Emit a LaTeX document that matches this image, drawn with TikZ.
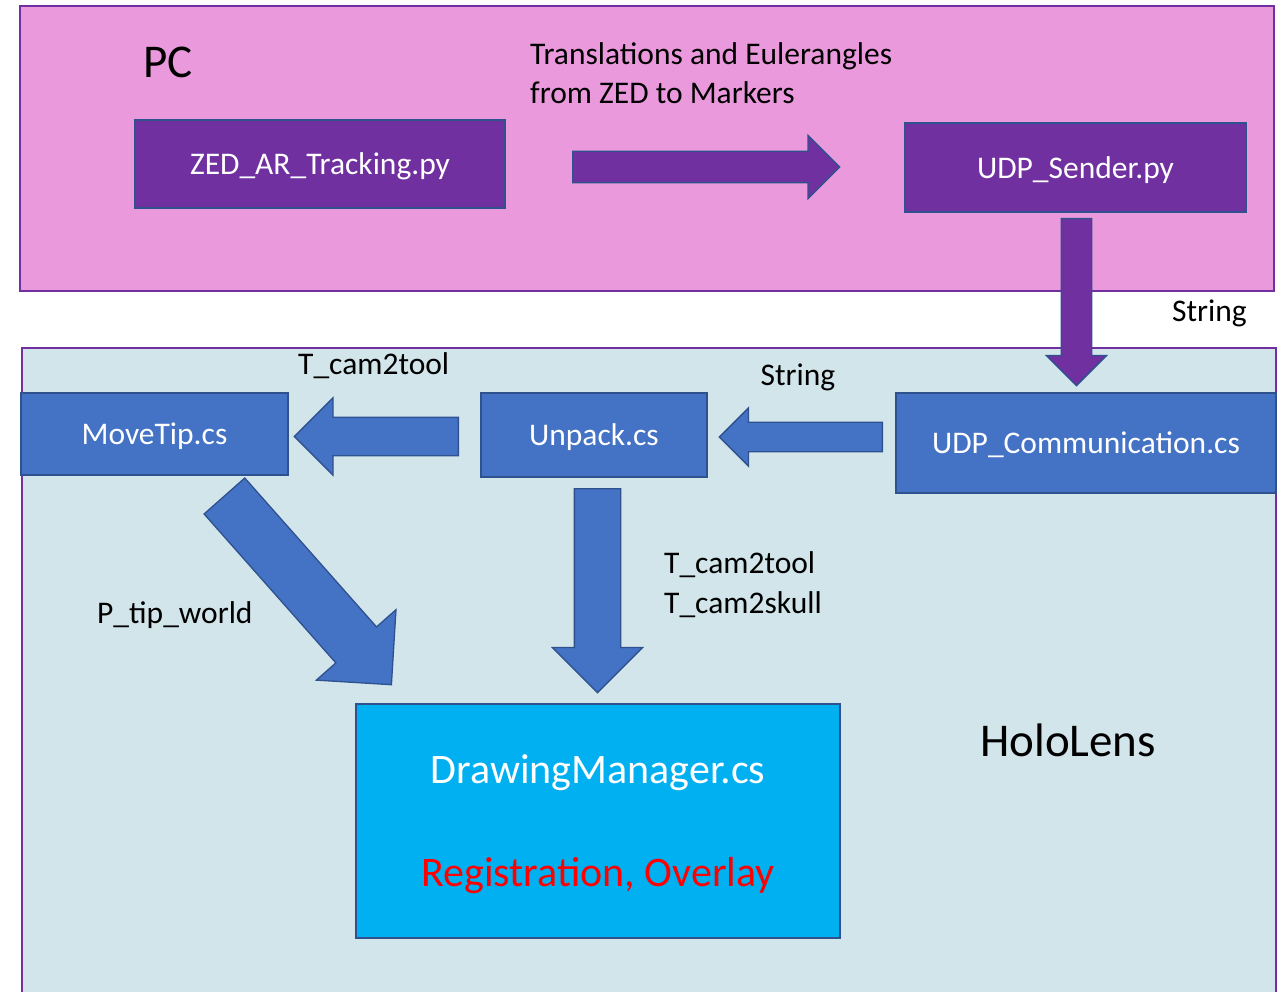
\documentclass[tikz,border=0pt]{standalone}
\usepackage{fontspec}
\setmainfont{Carlito}
\usetikzlibrary{positioning,shapes.arrows}
\definecolor{pcpink}{RGB}{234,154,220}
\definecolor{pcpurple}{RGB}{112,48,160}
\definecolor{holobg}{RGB}{209,229,235}
\definecolor{boxblue}{RGB}{68,114,196}
\definecolor{edgeblue}{RGB}{47,82,143}
\definecolor{dmcyan}{RGB}{0,176,240}
\newcommand{\txtsize}{\fontsize{31.5}{39.5}\selectfont}
\newcommand{\bigsize}{\fontsize{47}{52}\selectfont}

\begin{document}
\begin{tikzpicture}[x=1pt,y=-1pt,
  area/.style={draw=pcpurple,line width=2pt},
  script/.style={draw=edgeblue,line width=1.6pt,text=white,font=\txtsize,inner sep=0pt,text depth=0pt},
  pyfile/.style={script,fill=pcpurple},
  csfile/.style={script,fill=boxblue},
  blockarrow/.style n args={3}{single arrow,draw=edgeblue,line width=1.3pt,anchor=tail,
    minimum width=0pt,minimum height=#1,inner xsep=0pt,inner ysep=#2,
    single arrow head extend=#3,single arrow head indent=0pt},
  lbl/.style={font=\txtsize,text=black,inner sep=0pt},
]
\clip (0,0) rectangle (1278,992);
% the two machines
\draw[area,fill=pcpink] (20,6) rectangle (1274,291);
\draw[area,fill=holobg] (22,348) rectangle (1276,1010);
\node[lbl,font=\bigsize,anchor=base west] (pc) at (143,78) {PC};
\node[lbl,font=\bigsize,anchor=base west] (holo) at (980,756) {HoloLens};

% PC side
\node[pyfile,minimum width=370,minimum height=88] (zed) at (320,164) {ZED\_AR\_Tracking.py};
\node[pyfile,minimum width=341,minimum height=89] (sender) at (1075.5,167.5) {UDP\_Sender.py};
\node[blockarrow={267}{15}{16},fill=pcpurple] (a1) at (572,167) {};
\node[lbl,align=left,anchor=base west] (trans) at (530,104)
  {Translations and Eulerangles\\from ZED to Markers};

% transfer
\node[blockarrow={167}{14.5}{15},fill=pcpurple,rotate=-90] (a2) at (1076.5,218) {};
\node[lbl,anchor=base east] (str1) at (1247,322) {String};

% HoloLens side
\node[csfile,minimum width=267,minimum height=82] (move) at (154.5,434) {MoveTip.cs};
\node[csfile,minimum width=226,minimum height=84] (unpack) at (594,435) {Unpack.cs};
\node[csfile,minimum width=380,minimum height=100] (udp) at (1086,443) {UDP\_Communication.cs};
\node[blockarrow={163}{14}{14.5},fill=boxblue,rotate=180] (a4) at (883,437) {};
\node[lbl,anchor=base] (str2) at (798,386) {String};
\node[blockarrow={164}{18.5}{19.5},fill=boxblue,rotate=180] (a3) at (459,436.5) {};
\node[lbl,anchor=base west] (tool1) at (298,375) {T\_cam2tool};
\node[blockarrow={204}{22.5}{22},fill=boxblue,rotate=-90] (a5) at (597.5,488) {};
\node[lbl,align=left,anchor=base west] (tool2) at (664,613) {T\_cam2tool\\T\_cam2skull};
\node[blockarrow={252}{26.5}{26},fill=boxblue,rotate=-48.5] (a6) at (224,495.5) {};
\node[lbl,anchor=base west] (tip) at (97,623) {P\_tip\_world};

\node[script,fill=dmcyan,minimum width=484,minimum height=234,
  font=\fontsize{42}{103}\selectfont,align=center] (dm) at (598,821)
  {DrawingManager.cs\\\textcolor{red}{Registration, Overlay}};
\end{tikzpicture}
\end{document}
